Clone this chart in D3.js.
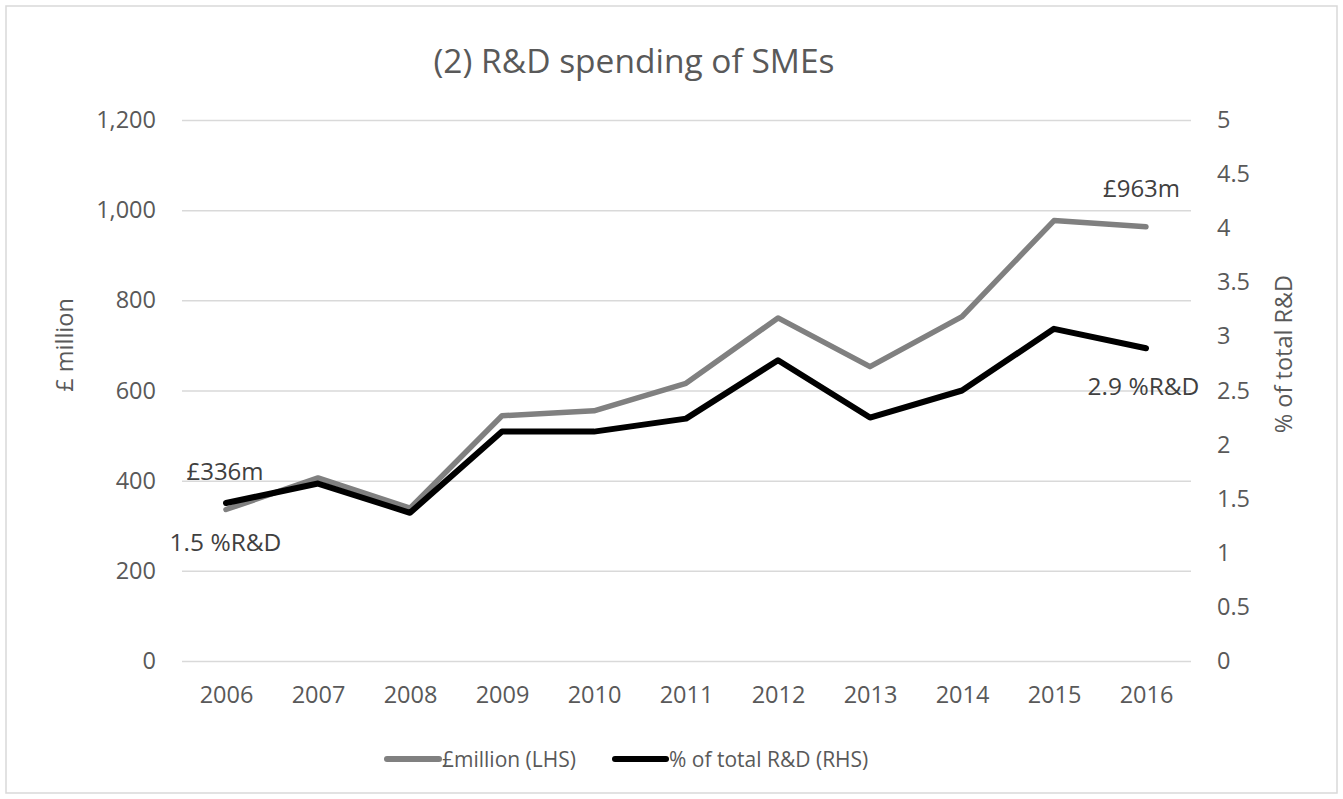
<!DOCTYPE html>
<html>
<head>
<meta charset="utf-8">
<script src="https://cdn.jsdelivr.net/npm/d3@7"></script>
<style>
  html, body { margin: 0; padding: 0; background: #fff; }
  svg { display: block; }
  text { font-family: "Open Sans", "Noto Sans", sans-serif; }
</style>
</head>
<body>
<svg id="chart" width="1343" height="799"></svg>
<script>
// ---- data ----
const years = ["2006","2007","2008","2009","2010","2011","2012","2013","2014","2015","2016"];
const millionValues = [336, 406, 339, 544, 555, 616, 761, 653, 764, 977, 963];
const pctValues = [1.46, 1.64, 1.37, 2.12, 2.12, 2.24, 2.78, 2.25, 2.50, 3.07, 2.89];
const leftTicks = [0, 200, 400, 600, 800, 1000, 1200];
const rightTicks = [0, 0.5, 1, 1.5, 2, 2.5, 3, 3.5, 4, 4.5, 5];
const seriesNames = ["£million (LHS)", "% of total R&D (RHS)"];
const titleText = "(2) R&D spending of SMEs";
const leftAxisTitle = "£ million";
const rightAxisTitle = "% of total R&D";
const annotations = [
  {text: "£336m", series: 0, idx: 0},
  {text: "1.5 %R&D", series: 1, idx: 0},
  {text: "£963m", series: 0, idx: 10},
  {text: "2.9 %R&D", series: 1, idx: 10}
];

// ---- layout ----
const svg = d3.select("#chart");
const plotL = 180, plotR = 1192, plotT = 120, plotB = 661;
const step = (plotR - plotL) / years.length;
const x = d3.scalePoint().domain(years).range([plotL + step / 2, plotR - step / 2]);
const yL = d3.scaleLinear().domain([0, 1200]).range([plotB, plotT]);
const yR = d3.scaleLinear().domain([0, 5]).range([plotB, plotT]);
const textColor = "#595959";
const tickFont = 23.5;

// border
svg.append("rect").attr("x", 6).attr("y", 6).attr("width", 1331).attr("height", 787)
  .attr("fill", "#fff").attr("stroke", "#d9d9d9").attr("stroke-width", 1.5);

// title
svg.append("text").attr("x", 634).attr("y", 73).attr("text-anchor", "middle")
  .attr("font-size", 33.5).attr("fill", textColor).text(titleText);

// gridlines
const grid = svg.append("g").attr("transform", `translate(${plotL + 2},0)`)
  .call(d3.axisLeft(yL).tickValues(leftTicks).tickSize(-(plotR - plotL - 3)).tickFormat(""));
grid.select(".domain").remove();
grid.selectAll("line").attr("stroke", "#d9d9d9").attr("stroke-width", 1.5);

// left axis
const axL = svg.append("g").attr("transform", `translate(156,0)`)
  .call(d3.axisLeft(yL).tickValues(leftTicks).tickSize(0).tickPadding(0).tickFormat(d3.format(",")));
axL.select(".domain").remove();
axL.selectAll("text").attr("font-size", tickFont).attr("fill", textColor)
  .attr("font-family", "'Open Sans', sans-serif");

// right axis
const axR = svg.append("g").attr("transform", `translate(1217,0)`)
  .call(d3.axisRight(yR).tickValues(rightTicks).tickSize(0).tickPadding(0).tickFormat(d => String(d)));
axR.select(".domain").remove();
axR.selectAll("text").attr("font-size", tickFont).attr("fill", textColor)
  .attr("font-family", "'Open Sans', sans-serif");

// x axis
const axX = svg.append("g").attr("transform", `translate(0,${plotB})`)
  .call(d3.axisBottom(x).tickSize(0).tickPadding(25));
axX.select(".domain").remove();
axX.selectAll("text").attr("font-size", tickFont).attr("fill", textColor)
  .attr("font-family", "'Open Sans', sans-serif");

// axis titles
svg.append("text").attr("transform", "translate(73,345) rotate(-90)")
  .attr("text-anchor", "middle").attr("font-size", tickFont).attr("fill", textColor).text(leftAxisTitle);
svg.append("text").attr("transform", "translate(1292,354) rotate(-90)")
  .attr("text-anchor", "middle").attr("font-size", tickFont).attr("fill", textColor).text(rightAxisTitle);

// lines
const lineL = d3.line().x((d, i) => x(years[i])).y(d => yL(d));
const lineR = d3.line().x((d, i) => x(years[i])).y(d => yR(d));
svg.append("path").datum(millionValues).attr("d", lineL)
  .attr("fill", "none").attr("stroke", "#808080").attr("stroke-width", 5.5)
  .attr("stroke-linecap", "round").attr("stroke-linejoin", "round");
svg.append("path").datum(pctValues).attr("d", lineR)
  .attr("fill", "none").attr("stroke", "#000").attr("stroke-width", 6)
  .attr("stroke-linecap", "round").attr("stroke-linejoin", "round");

// annotations
const annoPos = [
  {dx: -1, dy: -30, size: 24},
  {dx: -0.5, dy: 48, size: 24.5},
  {dx: -4.5, dy: -30, size: 24},
  {dx: -2.5, dy: 47, size: 24.5}
];
annotations.forEach((a, k) => {
  const cx = x(years[a.idx]);
  const cy = a.series === 0 ? yL(millionValues[a.idx]) : yR(pctValues[a.idx]);
  svg.append("text").attr("x", cx + annoPos[k].dx).attr("y", cy + annoPos[k].dy)
    .attr("text-anchor", "middle").attr("font-size", annoPos[k].size).attr("fill", "#404040")
    .text(a.text);
});

// legend
const legend = [
  {name: seriesNames[0], color: "#808080", x1: 387, x2: 439, tx: 442},
  {name: seriesNames[1], color: "#000", x1: 615, x2: 666, tx: 669}
];
legend.forEach(l => {
  svg.append("line").attr("x1", l.x1).attr("x2", l.x2).attr("y1", 759).attr("y2", 759)
    .attr("stroke", l.color).attr("stroke-width", 6).attr("stroke-linecap", "round");
  svg.append("text").attr("x", l.tx).attr("y", 767).attr("font-size", 21)
    .attr("fill", textColor).text(l.name);
});
</script>
</body>
</html>
